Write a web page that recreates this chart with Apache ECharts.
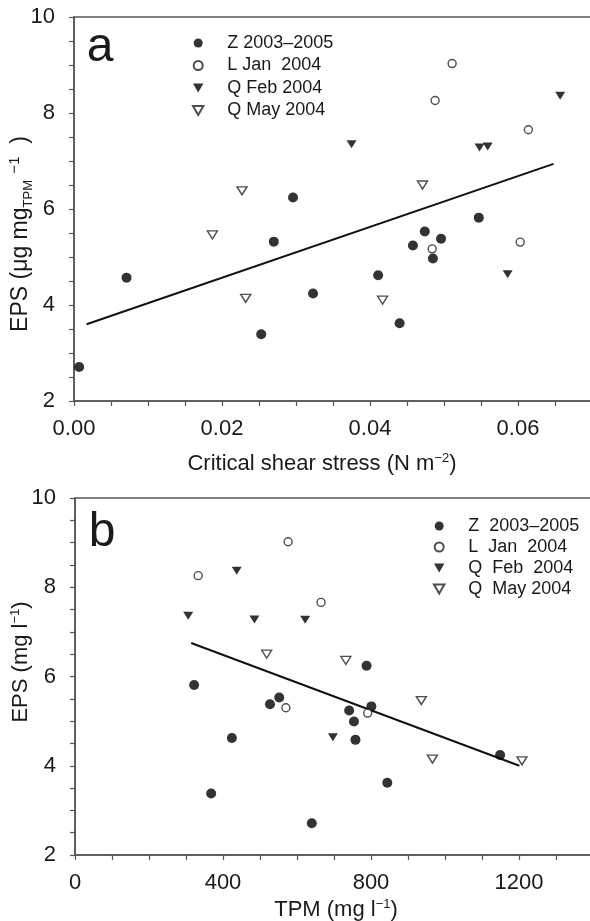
<!DOCTYPE html>
<html>
<head>
<meta charset="utf-8">
<script src="https://cdn.jsdelivr.net/npm/echarts@6/dist/echarts.min.js"></script>
<style>
  html, body { margin: 0; padding: 0; background: #fff; }
  #chart { width: 590px; height: 921px; }
</style>
</head>
<body>
<div id="chart"></div>
<script>
// panel a: critical shear stress vs EPS (ug mg_TPM^-1)
var zShear = [[0.0007,2.71],[0.0071,4.57],[0.0296,6.24],[0.0270,5.32],[0.0253,3.39],[0.0323,4.24],[0.0547,5.82],[0.0474,5.53],[0.0496,5.38],[0.0458,5.24],[0.0485,4.97],[0.0411,4.62],[0.0440,3.62]];
var lShear = [[0.0511,9.03],[0.0488,8.26],[0.0614,7.65],[0.0484,5.17],[0.0603,5.31]];
var qFebShear = [[0.0657,8.36],[0.0375,7.35],[0.0548,7.28],[0.0559,7.30],[0.0586,4.64]];
var qMayShear = [[0.0227,6.38],[0.0187,5.46],[0.0232,4.14],[0.0471,6.50],[0.0417,4.10]];
var fitShear = [[0.0017,3.60],[0.0648,6.94]];

// panel b: TPM vs EPS (mg l^-1)
var zTpm = [[322,5.81],[552,5.53],[527,5.38],[424,4.62],[368,3.38],[640,2.71],[788,6.24],[741,5.24],[801,5.33],[754,4.99],[758,4.58],[1149,4.24],[844,3.62]];
var lTpm = [[333,8.26],[576,9.02],[665,7.66],[570,5.30],[791,5.18]];
var qFebTpm = [[437,8.37],[306,7.36],[485,7.28],[622,7.27],[697,4.64]];
var qMayTpm = [[518,6.50],[732,6.36],[936,5.46],[966,4.15],[1208,4.11]];
var fitTpm = [[314,6.75],[1201,4.00]];

var namesA = ['Z 2003\u20132005', 'L Jan  2004', 'Q Feb 2004', 'Q May 2004'];
var namesB = ['Z  2003\u20132005', 'L  Jan  2004', 'Q  Feb  2004', 'Q  May 2004'];

var font = 'Liberation Sans, Arial, Helvetica, sans-serif';
var ink = '#1a1a1a';
var axisCol = '#555';
var downTri = 'path://M0,0L10,0L5,8.66Z';

var styles = [
    {symbol: 'circle', symbolSize: 10, itemStyle: {color: '#000'}},
    {symbol: 'circle', symbolSize: 8, itemStyle: {color: '#fff', borderColor: '#222', borderWidth: 1.4}},
    {symbol: downTri, symbolSize: [10, 8], itemStyle: {color: '#000'}},
    {symbol: downTri, symbolSize: [10, 8], itemStyle: {color: '#fff', borderColor: '#222', borderWidth: 1.4}}
];
var legendIcons = ['circle', 'circle', downTri, downTri];

function scatter(name, data, k, idx) {
    return {
        name: name,
        type: 'scatter',
        xAxisIndex: idx,
        yAxisIndex: idx,
        data: data,
        symbol: styles[k].symbol,
        symbolSize: styles[k].symbolSize,
        itemStyle: styles[k].itemStyle,
        z: 3
    };
}

function xAxisOf(idx, max, interval, labelStep, digits) {
    return {
        type: 'value', gridIndex: idx, min: 0, max: max, interval: interval,
        axisLine: {lineStyle: {color: axisCol, width: 1.5}},
        axisTick: {inside: false, length: 5, lineStyle: {color: axisCol, width: 1.2}},
        splitLine: {show: false},
        axisLabel: {
            color: ink, fontSize: 22, fontFamily: font, margin: 17,
            formatter: function (v) {
                var r = Math.round(v / labelStep);
                if (Math.abs(r * labelStep - v) > interval / 100 || v > max - interval / 2) return '';
                return (r * labelStep).toFixed(digits);
            }
        }
    };
}

function yAxisOf(idx) {
    return {
        type: 'value', gridIndex: idx, min: 2, max: 10, interval: 0.5,
        axisLine: {lineStyle: {color: axisCol, width: 1.5}},
        axisTick: {inside: false, length: 5, lineStyle: {color: axisCol, width: 1.2}},
        splitLine: {show: false},
        axisLabel: {
            color: ink, fontSize: 22, fontFamily: font, margin: 19,
            formatter: function (v) {
                return (Math.abs(v % 2) < 1e-6) ? String(v) : '';
            }
        }
    };
}

function legendOf(names, left, top, gap) {
    return {
        orient: 'vertical', left: left, top: top, itemGap: gap,
        itemWidth: 48, itemHeight: 9, selectedMode: false,
        textStyle: {color: ink, fontSize: 18, fontFamily: font, lineHeight: 18},
        data: names.map(function (n, k) { return {name: n, icon: legendIcons[k]}; })
    };
}

var chart = echarts.init(document.getElementById('chart'), null, {renderer: 'canvas'});

var option = {
    animation: false,
    backgroundColor: '#fff',
    grid: [
        {left: 74, top: 17, width: 518, height: 384, outerBoundsMode: 'none', containLabel: false,
         show: true, borderColor: axisCol, borderWidth: 1.5},
        {left: 75, top: 498, width: 518, height: 357, outerBoundsMode: 'none', containLabel: false,
         show: true, borderColor: axisCol, borderWidth: 1.5}
    ],
    xAxis: [xAxisOf(0, 0.07, 0.005, 0.02, 2), xAxisOf(1, 1400, 100, 400, 0)],
    yAxis: [yAxisOf(0), yAxisOf(1)],
    legend: [legendOf(namesA, 187, 29, 4.5), legendOf(namesB, 428, 512, 3)],
    series: [
        scatter(namesA[0], zShear, 0, 0),
        scatter(namesA[1], lShear, 1, 0),
        scatter(namesA[2], qFebShear, 2, 0),
        scatter(namesA[3], qMayShear, 3, 0),
        {type: 'line', xAxisIndex: 0, yAxisIndex: 0, data: fitShear, symbol: 'none',
         lineStyle: {color: '#111', width: 2}, z: 2},
        scatter(namesB[0], zTpm, 0, 1),
        scatter(namesB[1], lTpm, 1, 1),
        scatter(namesB[2], qFebTpm, 2, 1),
        scatter(namesB[3], qMayTpm, 3, 1),
        {type: 'line', xAxisIndex: 1, yAxisIndex: 1, data: fitTpm, symbol: 'none',
         lineStyle: {color: '#111', width: 2}, z: 2}
    ],
    graphic: [
        {type: 'text', x: 100, y: 48, style: {text: 'a', font: '48px ' + font, fill: ink, align: 'center', verticalAlign: 'middle'}},
        {type: 'text', x: 102, y: 533, style: {text: 'b', font: '48px ' + font, fill: ink, align: 'center', verticalAlign: 'middle'}},
        {type: 'text', x: 322, y: 464, style: {
            text: 'Critical shear stress (N m{sup|\u22122})', fill: ink, font: '22px ' + font,
            align: 'center', verticalAlign: 'middle', lineHeight: 24,
            rich: {sup: {fontSize: 13, fontFamily: font, verticalAlign: 'top', lineHeight: 24, fill: ink}}
        }},
        {type: 'text', x: 336, y: 910, style: {
            text: 'TPM (mg l{sup|\u22121})', fill: ink, font: '22px ' + font,
            align: 'center', verticalAlign: 'middle', lineHeight: 24,
            rich: {sup: {fontSize: 13, fontFamily: font, verticalAlign: 'top', lineHeight: 24, fill: ink}}
        }},
        {type: 'text', x: 21, y: 234, rotation: Math.PI / 2, style: {
            text: 'EPS (\u03bcg mg{sub|TPM} {sup|\u22121}  )', fill: ink, font: '23px ' + font,
            align: 'center', verticalAlign: 'middle', lineHeight: 27,
            rich: {
                sub: {fontSize: 13, fontFamily: font, verticalAlign: 'bottom', lineHeight: 27, fill: ink},
                sup: {fontSize: 15, fontFamily: font, verticalAlign: 'top', lineHeight: 27, fill: ink}
            }
        }},
        {type: 'text', x: 21, y: 662, rotation: Math.PI / 2, style: {
            text: 'EPS (mg l{sup|\u22121})', fill: ink, font: '22px ' + font,
            align: 'center', verticalAlign: 'middle', lineHeight: 24,
            rich: {sup: {fontSize: 13, fontFamily: font, verticalAlign: 'top', lineHeight: 24, fill: ink}}
        }}
    ]
};

chart.setOption(option);
</script>
</body>
</html>
